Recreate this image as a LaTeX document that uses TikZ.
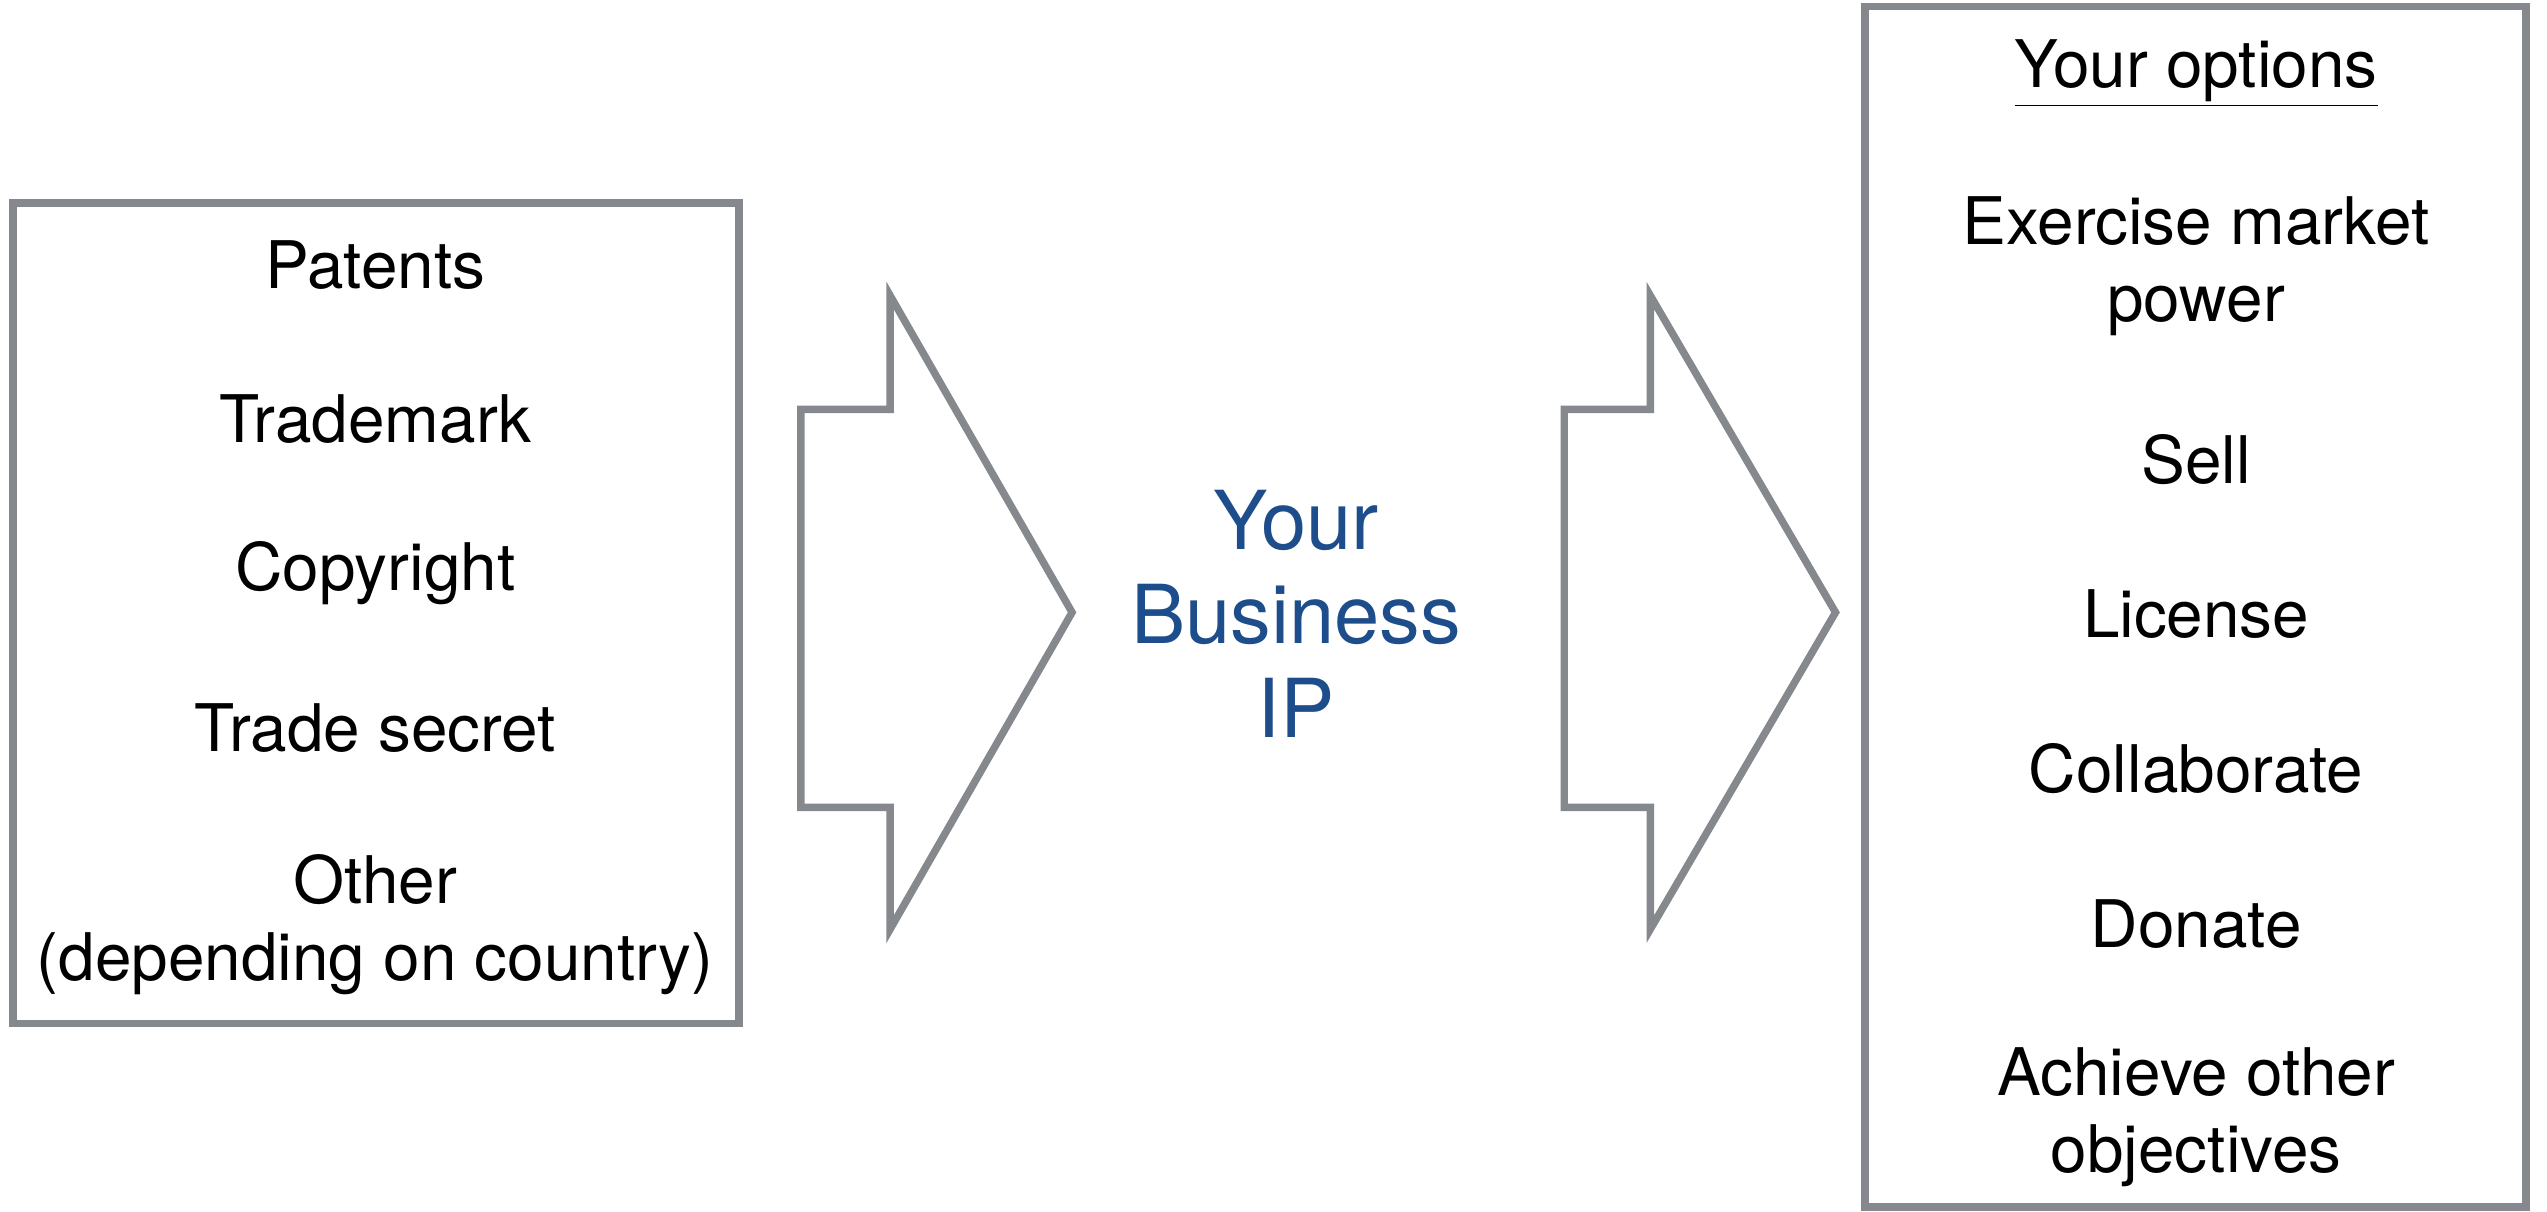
\documentclass[tikz,border=0pt]{standalone}
\usepackage{fontspec}
\setmainfont{TeX Gyre Heros}
\usepackage{tikz}
\usetikzlibrary{calc}
\definecolor{framegray}{HTML}{85888C}
\definecolor{ipblue}{HTML}{1E4D8C}
\tikzset{
  frame/.style={draw=framegray, line width=2.6pt, line join=miter},
  item/.style={font=\fontsize{23}{27}\selectfont, align=center, inner sep=0pt},
  center/.style={font=\fontsize{28.5}{33}\selectfont, align=center, inner sep=0pt, text=ipblue},
}

\begin{document}
\begin{tikzpicture}[scale=1]
    \useasboundingbox (0,0) rectangle (31.36,14.92);
    \coordinate (LA) at (0.16,2.32);
    \coordinate (LB) at (9.10,12.42);
    \coordinate (RA) at (22.96,0.06);
    \coordinate (RB) at (31.10,14.84);
    \draw[frame] (LA) rectangle (LB);
    \draw[frame] (RA) rectangle (RB);
    \draw[frame] (9.86,4.98) -- (9.86,9.88) -- (10.96,9.88) -- (10.96,11.28)
        -- (13.20,7.38) -- (10.96,3.48) -- (10.96,4.98) -- cycle;
    \draw[frame] (19.26,4.98) -- (19.26,9.88) -- (20.32,9.88) -- (20.32,11.28)
        -- (22.60,7.38) -- (20.32,3.48) -- (20.32,4.98) -- cycle;
    \node[item] (patents) at (4.62,11.66) {Patents};
    \node[item] (trademark) at (4.62,9.76) {Trademark};
    \node[item] (copyright) at (4.62,7.86) {Copyright};
    \node[item] (tradesecret) at (4.62,5.96) {Trade secret};
    \node[item] (other) at (4.62,3.54) {Other\\(depending on country)};
    \node[center] (ip) at (15.96,7.36) {Your\\Business\\IP};
    \node[item] (options) at (27.04,14.02) {\underline{Your options}};
    \node[item] (market) at (27.04,11.64) {Exercise market\\power};
    \node[item] (sell) at (27.04,9.26) {Sell};
    \node[item] (license) at (27.04,7.36) {License};
    \node[item] (collab) at (27.04,5.46) {Collaborate};
    \node[item] (donate) at (27.04,3.54) {Donate};
    \node[item] (achieve) at (27.04,1.16) {Achieve other\\objectives};
\end{tikzpicture}
\end{document}
